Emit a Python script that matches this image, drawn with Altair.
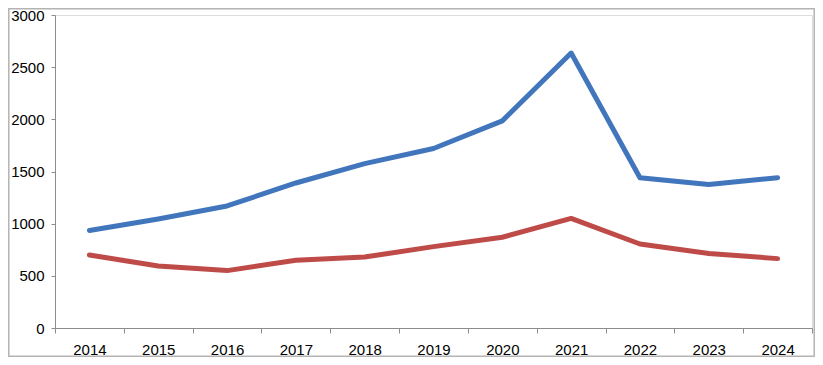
import altair as alt
import pandas as pd

years = ["2014", "2015", "2016", "2017", "2018", "2019", "2020", "2021", "2022", "2023", "2024"]
series_a = [935, 1045, 1170, 1390, 1575, 1720, 1985, 2635, 1440, 1375, 1440]
series_b = [700, 595, 550, 650, 680, 780, 870, 1050, 805, 715, 665]
series_names = ["A", "B"]
colors = ["#4176BD", "#BE4B48"]

df = pd.DataFrame({
    "year": years * 2,
    "value": series_a + series_b,
    "series": [series_names[0]] * len(years) + [series_names[1]] * len(years),
})

W, H = 757, 313
FONT = "Liberation Sans"

x = alt.X("year:O", sort=years,
          scale=alt.Scale(type="band", paddingInner=0, paddingOuter=0),
          axis=alt.Axis(title=None, labelAngle=0, tickBand="extent",
                        domainColor="#8c8c8c", tickColor="#8c8c8c", tickSize=5,
                        labelFont=FONT, labelFontSize=15, labelColor="#000000",
                        labelPadding=9))
y = alt.Y("value:Q",
          scale=alt.Scale(domain=[0, 3000], nice=False),
          axis=alt.Axis(title=None, values=[0, 500, 1000, 1500, 2000, 2500, 3000],
                        format="d",
                        grid=False, domainColor="#8c8c8c", tickColor="#8c8c8c", tickSize=4,
                        labelFont=FONT, labelFontSize=15, labelColor="#000000",
                        labelPadding=7))

lines = alt.Chart(df).mark_line(strokeWidth=5, strokeCap="round", strokeJoin="round").encode(
    x=x, y=y,
    color=alt.Color("series:N", scale=alt.Scale(domain=series_names, range=colors), legend=None),
)

border = alt.Chart(pd.DataFrame({"a": [0]})).mark_rect(
    fill=None, stroke="#b3b3b3", strokeWidth=1.5, clip=False
).encode(
    x=alt.value(-46.2), x2=alt.value(759.2), y=alt.value(-6.2), y2=alt.value(341.2)
)

chart = alt.layer(border, lines).properties(
    width=W, height=H,
    autosize=alt.AutoSizeParams(type="none"),
    padding={"left": 47, "top": 7, "right": 3, "bottom": 29},
).configure_view(stroke=None).configure(background="white")

chart.save("out.html", embed_options={"renderer": "svg", "actions": False})
